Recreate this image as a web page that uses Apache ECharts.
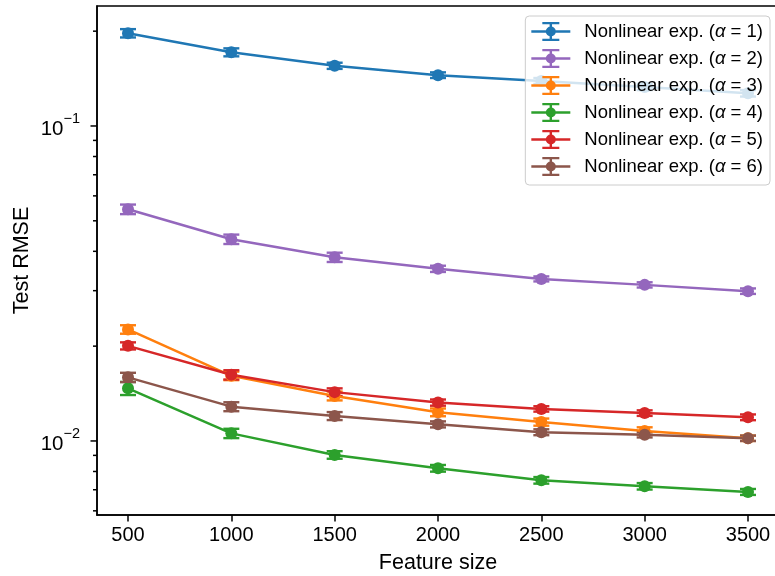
<!DOCTYPE html>
<html><head><meta charset="utf-8">
<script src="https://cdn.jsdelivr.net/npm/echarts@6/dist/echarts.min.js"></script>
<style>html,body{margin:0;padding:0;background:#fff}#c{width:775px;height:576px}</style>
</head><body><div id="c"></div>
<script>
// ---- data ----
const featureSizes = [500, 1000, 1500, 2000, 2500, 3000, 3500];
const alpha1 = [0.197, 0.1714, 0.1553, 0.145, 0.139, 0.133, 0.127];
const err1   = [0.006, 0.005, 0.0035, 0.003, 0.003, 0.003, 0.003];
const alpha2 = [0.0544, 0.0437, 0.0383, 0.0352, 0.0327, 0.0313, 0.0299];
const err2   = [0.0019, 0.0015, 0.0013, 0.0008, 0.0006, 0.0006, 0.0006];
const alpha3 = [0.0226, 0.0161, 0.0139, 0.01233, 0.01148, 0.01075, 0.0102];
const err3   = [0.0007, 0.0005, 0.00045, 0.00035, 0.0003, 0.0003, 0.0002];
const alpha4 = [0.01469, 0.01057, 0.00903, 0.00819, 0.0075, 0.00718, 0.00689];
const err4   = [0.0007, 0.00036, 0.00025, 0.0002, 0.00018, 0.00017, 0.00015];
const alpha5 = [0.02004, 0.01622, 0.01429, 0.01324, 0.01264, 0.01226, 0.01189];
const err5   = [0.00052, 0.00055, 0.0004, 0.0003, 0.00025, 0.00025, 0.00025];
const alpha6 = [0.01592, 0.01285, 0.012, 0.01129, 0.01066, 0.01046, 0.0102];
const err6   = [0.00054, 0.00042, 0.00035, 0.00025, 0.00023, 0.0002, 0.0002];

const seriesLabels = ['Nonlinear exp. (α = 1)', 'Nonlinear exp. (α = 2)', 'Nonlinear exp. (α = 3)',
                      'Nonlinear exp. (α = 4)', 'Nonlinear exp. (α = 5)', 'Nonlinear exp. (α = 6)'];
const seriesColors = ['#1f77b4', '#9467bd', '#ff7f0e', '#2ca02c', '#d62728', '#8c564b'];
const seriesValues = [alpha1, alpha2, alpha3, alpha4, alpha5, alpha6];
const seriesErrors = [err1, err2, err3, err4, err5, err6];

const xTickValues = [500, 1000, 1500, 2000, 2500, 3000, 3500];
const yMajorTicks = [0.01, 0.1];
const yMinorTicks = [0.006, 0.007, 0.008, 0.009, 0.02, 0.03, 0.04, 0.05, 0.06, 0.07, 0.08, 0.09, 0.2];
const xMin = 350, xMax = 3650, yMin = 0.00582, yMax = 0.2404;

// ---- chart ----
const FONT = '"Liberation Sans", Arial, sans-serif';
const chart = echarts.init(document.getElementById('c'), null, {renderer: 'canvas'});

function renderErr(params, api) {
  const x = api.value(0), y = api.value(1), e = api.value(2);
  const t = api.coord([x, y + e]), b = api.coord([x, y - e]);
  const cap = 8, lw = 2.4;
  const color = api.visual('color');
  const st = {stroke: color, lineWidth: lw};
  return {type: 'group', children: [
    {type: 'line', shape: {x1: t[0], y1: t[1], x2: b[0], y2: b[1]}, style: st},
    {type: 'line', shape: {x1: t[0] - cap, y1: t[1], x2: t[0] + cap, y2: t[1]}, style: st},
    {type: 'line', shape: {x1: b[0] - cap, y1: b[1], x2: b[0] + cap, y2: b[1]}, style: st}
  ]};
}
function renderTick(params, api) {
  const p = api.coord([api.value(0), api.value(1)]);
  const len = api.value(2);
  return {type: 'line', shape: {x1: p[0] - len, y1: p[1], x2: p[0], y2: p[1]},
          style: {stroke: '#000', lineWidth: 1.5}};
}

const series = [];
seriesLabels.forEach((name, i) => {
  series.push({
    name: 'err' + i, type: 'custom', renderItem: renderErr, silent: true, z: 2,
    itemStyle: {color: seriesColors[i]}, encode: {x: 0, y: 1},
    data: featureSizes.map((x, j) => [x, seriesValues[i][j], seriesErrors[i][j]])
  });
  series.push({
    name: name, type: 'line', z: 2, symbol: 'circle', symbolSize: 12,
    itemStyle: {color: seriesColors[i]}, lineStyle: {color: seriesColors[i], width: 2.5},
    emphasis: {disabled: true},
    data: featureSizes.map((x, j) => [x, seriesValues[i][j]])
  });
});
series.push({
  name: 'yticks', type: 'custom', renderItem: renderTick, silent: true, z: 3, encode: {x: 0, y: 1},
  data: yMajorTicks.map(v => [xMin, v, 6.5]).concat(yMinorTicks.map(v => [xMin, v, 4]))
});

const legendIcon = 'path://M0,8.25H39V10.75H0Z M18.3,0H20.7V19H18.3Z M11,0H28V2.2H11Z M11,16.8H28V19H11Z M14.5,9.5A5,5 0 1,1 24.5,9.5A5,5 0 1,1 14.5,9.5Z';

chart.setOption({
  animation: false,
  backgroundColor: '#fff',
  textStyle: {fontFamily: FONT},
  grid: {left: 97, top: 6, right: -4, bottom: 61, show: true, borderColor: '#000', borderWidth: 1.5,
         containLabel: false, outerBoundsMode: 'none'},
  legend: {
    orient: 'vertical', right: 5, top: 16,
    itemWidth: 39, itemHeight: 19, itemGap: 8,
    padding: [6, 7, 9, 6],
    backgroundColor: 'rgba(255,255,255,0.8)', borderColor: '#cccccc', borderWidth: 1, borderRadius: 4,
    icon: legendIcon,
    itemStyle: {borderWidth: 0},
    data: seriesLabels,
    formatter: n => n.replace('α', '{i|α}'),
    textStyle: {fontFamily: FONT, fontSize: 18.5, color: '#000', padding: [0, 0, 0, 9],
                rich: {i: {fontFamily: FONT, fontSize: 18.5, fontStyle: 'italic', color: '#000'}}}
  },
  xAxis: {
    type: 'value', min: xMin, max: xMax,
    name: 'Feature size', nameLocation: 'middle', nameGap: 37, nameMoveOverlap: false,
    nameTextStyle: {fontFamily: FONT, fontSize: 21.5, color: '#000'},
    axisLine: {show: true, lineStyle: {color: '#000', width: 1.5}},
    axisTick: {show: true, customValues: xTickValues, length: 6.5, lineStyle: {color: '#000', width: 1.5}},
    axisLabel: {customValues: xTickValues, fontFamily: FONT, fontSize: 20, color: '#000', margin: 10,
                formatter: v => String(Math.round(v))},
    splitLine: {show: false}
  },
  yAxis: {
    type: 'log', logBase: 10, min: yMin, max: yMax,
    name: 'Test RMSE', nameLocation: 'middle', nameGap: 64, nameRotate: 90, nameMoveOverlap: false,
    nameTextStyle: {fontFamily: FONT, fontSize: 21.5, color: '#000'},
    axisLine: {show: true, lineStyle: {color: '#000', width: 1.5}},
    axisTick: {show: false},
    splitLine: {show: false},
    axisLabel: {
      margin: 17, color: '#000',
      formatter: v => {
        const l = Math.log10(v), e = Math.round(l);
        if (Math.abs(l - e) > 1e-6) return '';
        return '{b|10}{s|−' + (-e) + '}';
      },
      rich: {
        b: {fontFamily: FONT, fontSize: 20.5, color: '#000', lineHeight: 28, verticalAlign: 'bottom'},
        s: {fontFamily: FONT, fontSize: 14.5, color: '#000', lineHeight: 28, verticalAlign: 'top'}
      }
    }
  },
  series: series
});
</script></body></html>
